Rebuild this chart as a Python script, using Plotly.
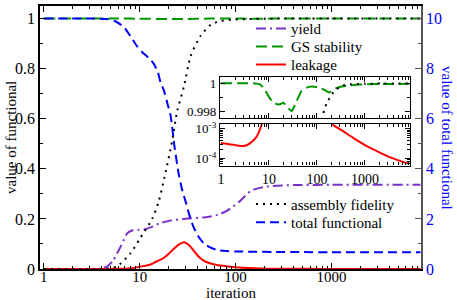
import plotly.graph_objects as go

# ---------------- data ----------------
yield_x = [1, 2, 3, 3.6, 4.5, 5.3, 6.3, 7.4, 8.3, 9.5, 11, 13, 16, 20, 29, 47, 65, 81, 112, 143, 161, 200, 270, 400, 1000, 8500]
yield_y = [0, 0, 0, 0.001, 0.008, 0.035, 0.088, 0.142, 0.154, 0.156, 0.158, 0.166, 0.182, 0.192, 0.2, 0.206, 0.216, 0.232, 0.272, 0.311, 0.319, 0.328, 0.332, 0.335, 0.336, 0.336]

gs_x = [1, 3, 5, 6.5, 8, 9.7, 12.3, 15, 17, 20, 23, 26, 30, 34, 38, 43, 48, 60, 78, 107, 140, 180, 230, 330, 450, 1000, 3000, 8500]
gs_y = [1.0, 1.0, 0.99999, 0.99993, 0.9996, 0.99911, 0.99864, 0.99852, 0.99852, 0.99862, 0.9984, 0.9982, 0.99805, 0.9984, 0.99876, 0.99915, 0.99946, 0.99968, 0.99977, 0.9997, 0.99955, 0.99935, 0.9996, 0.99978, 0.99985, 0.99993, 0.99995, 0.99996]

leak_x = [1, 2, 3, 4, 5.5, 7, 8, 9, 10, 11.5, 13, 15, 17.8, 20, 22.7, 25.5, 29, 32.6, 36, 39.6, 44, 48.4, 55, 64, 80, 95, 120, 160, 215, 320, 560, 1000, 1780, 3100, 5000, 8500]
leak_y = [3.3e-4, 2.8e-4, 2.6e-4, 3.2e-4, 5.3e-4, 1.3e-3, 2.8e-3, 5.5e-3, 0.009, 0.013, 0.018, 0.03, 0.044, 0.06, 0.081, 0.097, 0.107, 0.096, 0.077, 0.057, 0.04, 0.03, 0.022, 0.016, 0.011, 0.008, 0.0045, 0.0025, 0.00135, 9.1e-4, 5.0e-4, 2.8e-4, 1.75e-4, 1.15e-4, 8.6e-5, 6.6e-5]

fid_x = [1, 4, 5, 5.8, 8, 10, 13.5, 15.8, 18, 21.8, 24.6, 29, 34, 43, 55, 70, 90, 126, 160, 218, 325, 500, 1000, 8500]
fid_y = [0, 0, 0.003, 0.01, 0.062, 0.12, 0.2, 0.27, 0.36, 0.51, 0.63, 0.73, 0.85, 0.93, 0.975, 0.99, 0.9955, 0.9975, 0.9986, 0.99934, 0.99982, 0.99993, 0.99997, 0.99998]

tot_x = [1, 3, 4.5, 5.5, 6.8, 8, 9.4, 11, 12.5, 14, 15.5, 16.5, 17.8, 19.5, 21, 23.1, 25.6, 28, 30, 33, 36.5, 41, 47, 55, 64, 80, 100, 150, 250, 500, 1000, 8500]
tot_y = [10, 10, 9.98, 9.9, 9.67, 9.3, 8.89, 8.6, 8.42, 8.2, 7.85, 7.45, 7.15, 6.6, 6.13, 4.88, 3.77, 3.1, 2.72, 2.15, 1.67, 1.3, 1.01, 0.85, 0.76, 0.72, 0.7, 0.69, 0.68, 0.675, 0.67, 0.67]

x_ticks = [1, 10, 100, 1000]
x_ticktext = ["1", "10", "100", "1000"]
y_ticks = [0, 0.2, 0.4, 0.6, 0.8, 1.0]
y_ticktext = ["0", "0.2", "0.4", "0.6", "0.8", "1"]
y2_ticks = [0, 2, 4, 6, 8, 10]
y2_ticktext = ["0", "2", "4", "6", "8", "10"]
in1_ticks = [0.998, 1.0]
in1_ticktext = ["0.998", "1"]
in2_ticks = [1e-4, 1e-3]
in2_ticktext = ["10<sup>-4</sup>", "10<sup>-3</sup>"]

# ---------------- styling ----------------
FONT = "Liberation Serif"
PURPLE = "#7b30c8"
GREEN = "#009600"
RED = "#ff0000"
BLUE = "#0000ff"
BLACK = "#000000"

XMAX = 8600
log_minor = [m * 10 ** e for e in range(0, 4) for m in range(2, 10) if m * 10 ** e < XMAX]
in2_minor = [m * 10 ** e for e in (-5, -4, -3) for m in range(2, 10) if 5.8e-5 < m * 10 ** e < 1.4e-3]

W, H = 457, 300
L, R, T, B = 40, 36, 2, 31
pw, ph = W - L - R, H - T - B


def px_x(p):
    return (p - L) / pw


def px_y(p):
    return (H - B - p) / ph


fig = go.Figure()


def add(x, y, color, dash, name, xa, ya, legend="legend", show=False, width=2):
    fig.add_trace(go.Scatter(
        x=x, y=y, mode="lines", name=name,
        line=dict(color=color, dash=dash, width=width, shape="spline", smoothing=0.6),
        xaxis=xa, yaxis=ya, showlegend=show, legend=legend, hoverinfo="skip"))


DASH_YIELD = "10px,4px,2px,4px"
DASH_GS = "11px,5px"
DASH_TOT = "9px,5px"
DASH_FID = "2px,5px"

# main panel
add(yield_x, yield_y, PURPLE, DASH_YIELD, "yield", "x", "y", "legend", True)
add(gs_x, gs_y, GREEN, DASH_GS, "GS stability", "x", "y", "legend2", True)
add(leak_x, leak_y, RED, "solid", "leakage", "x", "y", "legend3", True)
add(fid_x, fid_y, BLACK, DASH_FID, "assembly fidelity", "x", "y", "legend4", True)
add(tot_x, tot_y, BLUE, DASH_TOT, "total functional", "x", "y2", "legend5", True)
# inset 1
add(gs_x, gs_y, GREEN, DASH_GS, "GS stability", "x3", "y3")
add(fid_x, fid_y, BLACK, DASH_FID, "assembly fidelity", "x3", "y3")
# inset 2
add(leak_x, leak_y, RED, "solid", "leakage", "x4", "y4")

ax_common = dict(showline=True, linecolor="black", linewidth=1.6, ticks="inside",
                 tickcolor="black", showgrid=False, zeroline=False,
                 tickfont=dict(family=FONT, size=15, color="black"))

in_xdom = [px_x(220), px_x(410)]
in_xrange = [-0.02, 3.94]


def leg(ycenter):
    return dict(x=px_x(251), y=px_y(ycenter), xanchor="left", yanchor="middle",
                bgcolor="rgba(0,0,0,0)", font=dict(family=FONT, size=15, color="black"),
                borderwidth=0)


fig.update_layout(
    width=W, height=H,
    margin=dict(l=L, r=R, t=T, b=B),
    paper_bgcolor="white", plot_bgcolor="white",
    font=dict(family=FONT, size=15, color="black"),
    xaxis=dict(ax_common, type="log", range=[-0.04, 3.935], domain=[0, 1], anchor="y",
               tickvals=x_ticks, ticktext=x_ticktext, ticklen=6, mirror="ticks",
               ticklabelstandoff=-7,
               minor=dict(tickvals=log_minor, ticks="inside", ticklen=3, tickcolor="black")),
    yaxis=dict(ax_common, range=[0, 1.05], domain=[0, 1], anchor="x",
               tickvals=y_ticks, ticktext=y_ticktext, ticklen=6,
               tickfont=dict(family=FONT, size=16, color="black"),
               minor=dict(dtick=0.1, tick0=0, ticks="inside", ticklen=3, tickcolor="black")),
    yaxis2=dict(ax_common, range=[0, 10.5], overlaying="y", side="right", anchor="x",
                linecolor="#555555", tickcolor="#555555",
                tickvals=y2_ticks, ticktext=y2_ticktext, ticklen=6,
                tickfont=dict(family=FONT, size=16, color=BLUE),
                minor=dict(dtick=1, tick0=0, ticks="inside", ticklen=3, tickcolor="#555555")),
    xaxis3=dict(ax_common, type="log", range=in_xrange, domain=in_xdom, anchor="y3",
                tickvals=x_ticks, showticklabels=False, ticklen=5, mirror="ticks", linewidth=1.4,
                minor=dict(tickvals=log_minor, ticks="inside", ticklen=3, tickcolor="black")),
    yaxis3=dict(ax_common, range=[0.99753, 1.00045], domain=[px_y(116), px_y(74)], anchor="x3",
                tickvals=in1_ticks, ticktext=in1_ticktext, ticklen=5, mirror="ticks", linewidth=1.4,
                tickfont=dict(family=FONT, size=13, color="black"),
                minor=dict(tickvals=[0.999], ticks="inside", ticklen=3, tickcolor="black")),
    xaxis4=dict(ax_common, type="log", range=in_xrange, domain=in_xdom, anchor="y4",
                tickvals=x_ticks, ticktext=x_ticktext, ticklen=5, mirror="ticks", linewidth=1.4,
                tickfont=dict(family=FONT, size=14, color="black"),
                minor=dict(tickvals=log_minor, ticks="inside", ticklen=3, tickcolor="black")),
    yaxis4=dict(ax_common, type="log", range=[-4.24, -2.85], domain=[px_y(164), px_y(122)], anchor="x4",
                tickvals=in2_ticks, ticktext=in2_ticktext, ticklen=5, mirror="ticks", linewidth=1.4,
                tickfont=dict(family=FONT, size=13, color="black"),
                minor=dict(tickvals=in2_minor, ticks="inside", ticklen=3, tickcolor="black")),
    legend=leg(25),
    legend2=leg(43.3),
    legend3=leg(61.7),
    legend4=leg(203.3),
    legend5=leg(221.7),
    annotations=[
        dict(text="value of functional", xref="paper", yref="paper", x=px_x(10.5), y=0.5,
             textangle=-90, showarrow=False, font=dict(family=FONT, size=15, color="black"),
             xanchor="center", yanchor="middle"),
        dict(text="value of total functional", xref="paper", yref="paper", x=px_x(447.5), y=0.5,
             textangle=90, showarrow=False, font=dict(family=FONT, size=15, color=BLUE),
             xanchor="center", yanchor="middle"),
        dict(text="iteration", xref="paper", yref="paper", x=0.5, y=px_y(293.5),
             showarrow=False, font=dict(family=FONT, size=15, color="black"),
             xanchor="center", yanchor="middle"),
    ],
)

fig.write_html("out.html", config={"displayModeBar": False},
               post_script="document.body.style.margin='0px';")
